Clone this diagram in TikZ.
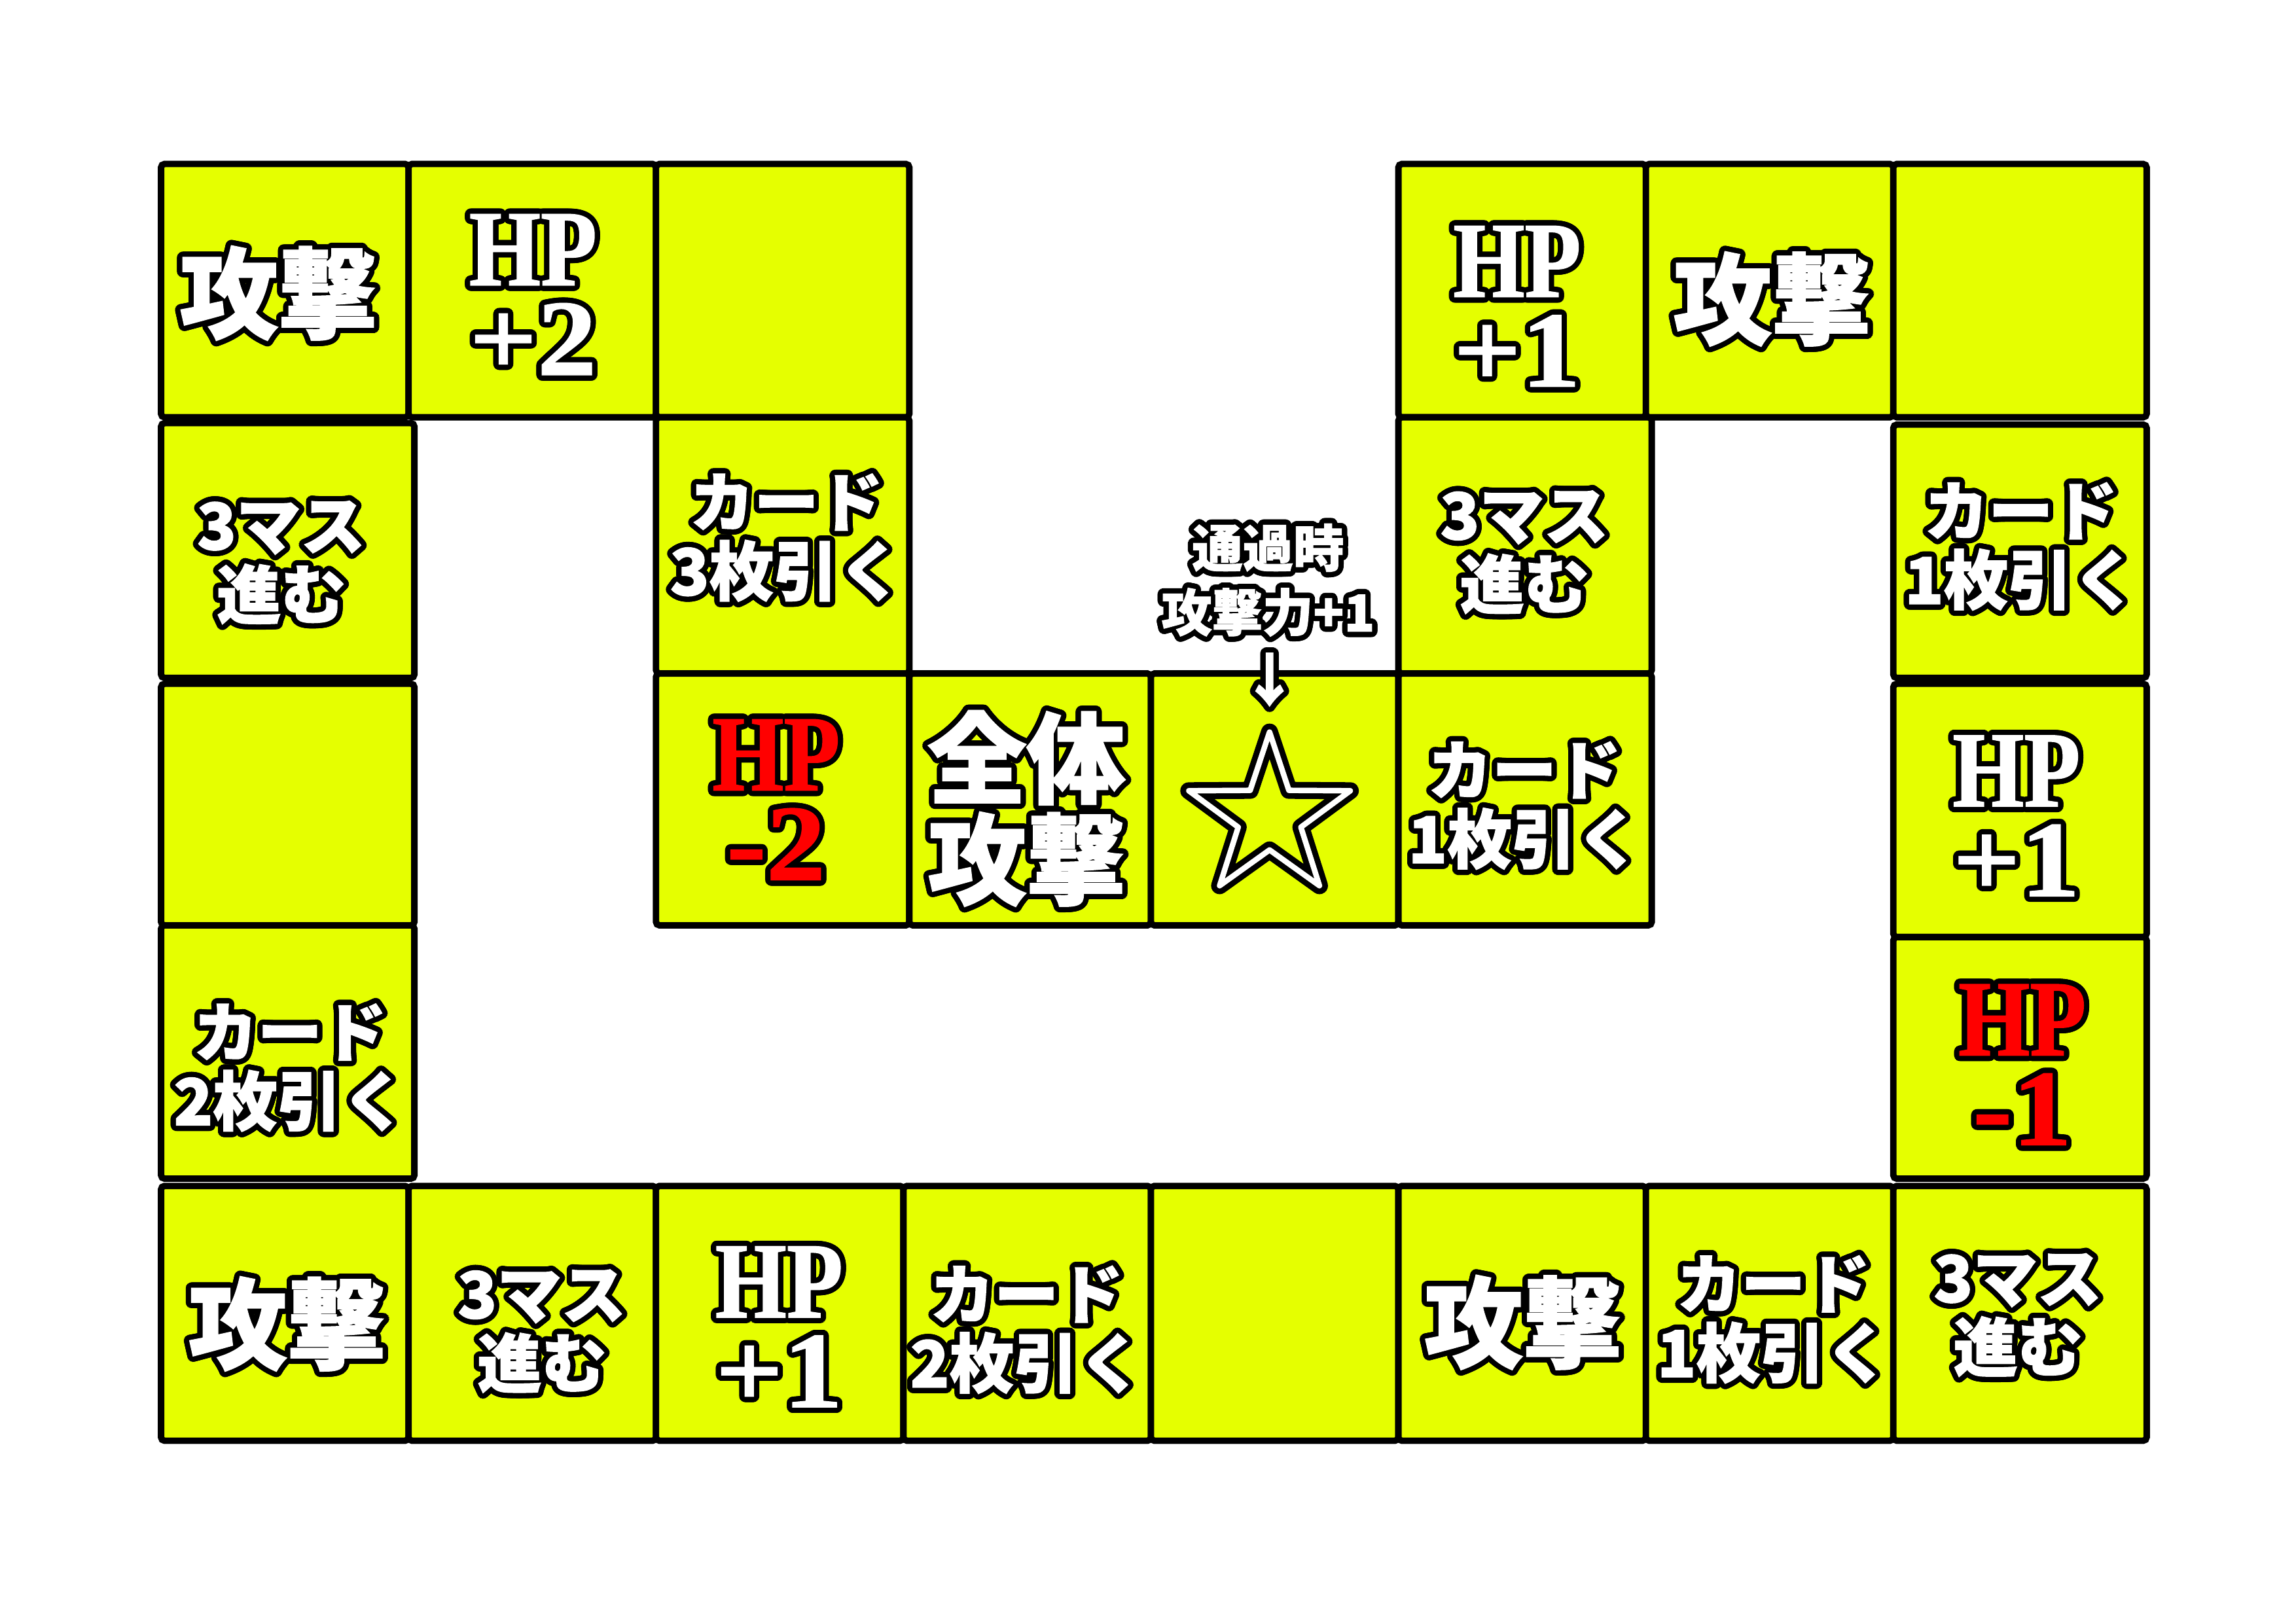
\documentclass[tikz,border=0pt]{standalone}
\usepackage{fontspec}
\usepackage{contour}
\newfontfamily\jp{Noto Sans CJK JP}[BoldFeatures={FakeBold=1.5}]
\newfontfamily\hpf{Liberation Serif}[FakeStretch=0.85, BoldFeatures={FakeBold=1}]
\newfontfamily\hpg{Liberation Serif}[FakeStretch=1.1, BoldFeatures={FakeBold=1}]
\definecolor{cellyellow}{RGB}{229,255,0}
\definecolor{hpred}{RGB}{255,0,0}
\contourlength{2.3pt}
\contournumber{32}
\lineskiplimit=-100pt
\lineskip=0pt
\newcommand\ct[1]{\contour{black}{#1}}
\newcommand\hpn[1]{\contour{black}{\hpg #1}}
\tikzset{
  cellbox/.style={draw=black, fill=cellyellow, line width=2.8pt, rounded corners=1.5pt},
  lbl/.style={text=white, align=center, inner sep=0pt},
  bigjp/.style={lbl, font=\jp\bfseries\fontsize{43}{44}\selectfont},
  midjp/.style={lbl, font=\jp\bfseries\fontsize{28}{30}\selectfont},
  smalljp/.style={lbl, font=\jp\bfseries\fontsize{22}{28}\selectfont},
  arrowjp/.style={lbl, font=\jp\bfseries\fontsize{25}{25}\selectfont},
  hpw/.style={lbl, font=\hpf\bfseries\fontsize{47}{39}\selectfont},
  hpr/.style={hpw, text=hpred},
  starline/.style={draw=black, line width=2.5pt, double=white, double distance=2.4pt, line join=round}
}
\begin{document}
\begin{tikzpicture}[x=0.022372cm, y=-0.022372cm]
\useasboundingbox (0,0) rectangle (1568,1108.5);
% top-left block
\draw[cellbox] (110,112) rectangle (279,285);
\draw[cellbox] (279,112) rectangle (448,285);
\draw[cellbox] (448,112) rectangle (621,285);
% top-right block
\draw[cellbox] (955,112) rectangle (1124,285);
\draw[cellbox] (1124,112) rectangle (1293,285);
\draw[cellbox] (1293,112) rectangle (1466,285);
% row 2
\draw[cellbox] (110,289) rectangle (283,463);
\draw[cellbox] (448,285) rectangle (621,460);
\draw[cellbox] (955,285) rectangle (1128,460);
\draw[cellbox] (1293,290) rectangle (1466,463);
% row 3
\draw[cellbox] (110,467) rectangle (283,632);
\draw[cellbox] (448,460) rectangle (621,632);
\draw[cellbox] (621,460) rectangle (786,632);
\draw[cellbox] (786,460) rectangle (955,632);
\draw[cellbox] (955,460) rectangle (1128,632);
\draw[cellbox] (1293,467) rectangle (1466,640);
% row 4
\draw[cellbox] (110,632) rectangle (283,805);
\draw[cellbox] (1293,640) rectangle (1466,805);
% bottom row
\foreach \xa/\xb in {110/279,279/448,448/617,617/786,786/955,955/1124,1124/1293,1293/1466}
  \draw[cellbox] (\xa,810) rectangle (\xb,984);

% labels
\node[bigjp] (t1) at (190,202) {\ct{攻撃}};
\node[hpw] (t2) at (364,203) {\ct{HP}\\\hpn{+2}};
\node[hpw] (t3) at (1036,211) {\ct{HP}\\\hpn{+1}};
\node[bigjp] (t4) at (1210,206) {\ct{攻撃}};

\node[midjp] (l2) at (192,386) {\ct{3マス}\\\ct{進む}};
\node[midjp] (c2) at (537,369) {\ct{カード}\\\ct{3枚引く}};
\node[midjp] (r2a) at (1041,379) {\ct{3マス}\\\ct{進む}};
\node[midjp] (r2) at (1380,375) {\ct{カード}\\\ct{1枚引く}};

\node[smalljp] (pass) at (866,398) {\ct{通過時}\\\ct{攻撃力+1}};
\node[arrowjp] (arr) at (867,466) {\ct{↓}};

\node[hpr] (m1) at (530,548) {\ct{HP}\\\hpn{-2}};
\node[bigjp] (m2) at (701,554) {\ct{全体}\\\ct{攻撃}};
\draw[starline] (867,500) -- (853.77,539.80) -- (811.84,540.08) -- (845.60,564.95)
  -- (832.91,604.92) -- (867,580.5) -- (901.09,604.92) -- (888.40,564.95)
  -- (922.16,540.08) -- (880.23,539.80) -- cycle;
\node[midjp] (m4) at (1041,552) {\ct{カード}\\\ct{1枚引く}};
\node[hpw] (r3) at (1377,559) {\ct{HP}\\\hpn{+1}};

\node[midjp] (l4) at (198,731) {\ct{カード}\\\ct{2枚引く}};
\node[hpr] (r4) at (1381,729) {\ct{HP}\\\hpn{-1}};

\node[bigjp] (b1) at (196,906) {\ct{攻撃}};
\node[midjp] (b2) at (370,911) {\ct{3マス}\\\ct{進む}};
\node[hpw] (b3) at (532,908) {\ct{HP}\\\hpn{+1}};
\node[midjp] (b4) at (701,910) {\ct{カード}\\\ct{2枚引く}};
\node[bigjp] (b6) at (1040,905) {\ct{攻撃}};
\node[midjp] (b7) at (1211,903) {\ct{カード}\\\ct{1枚引く}};
\node[midjp] (b8) at (1378,900) {\ct{3マス}\\\ct{進む}};
\end{tikzpicture}
\end{document}
